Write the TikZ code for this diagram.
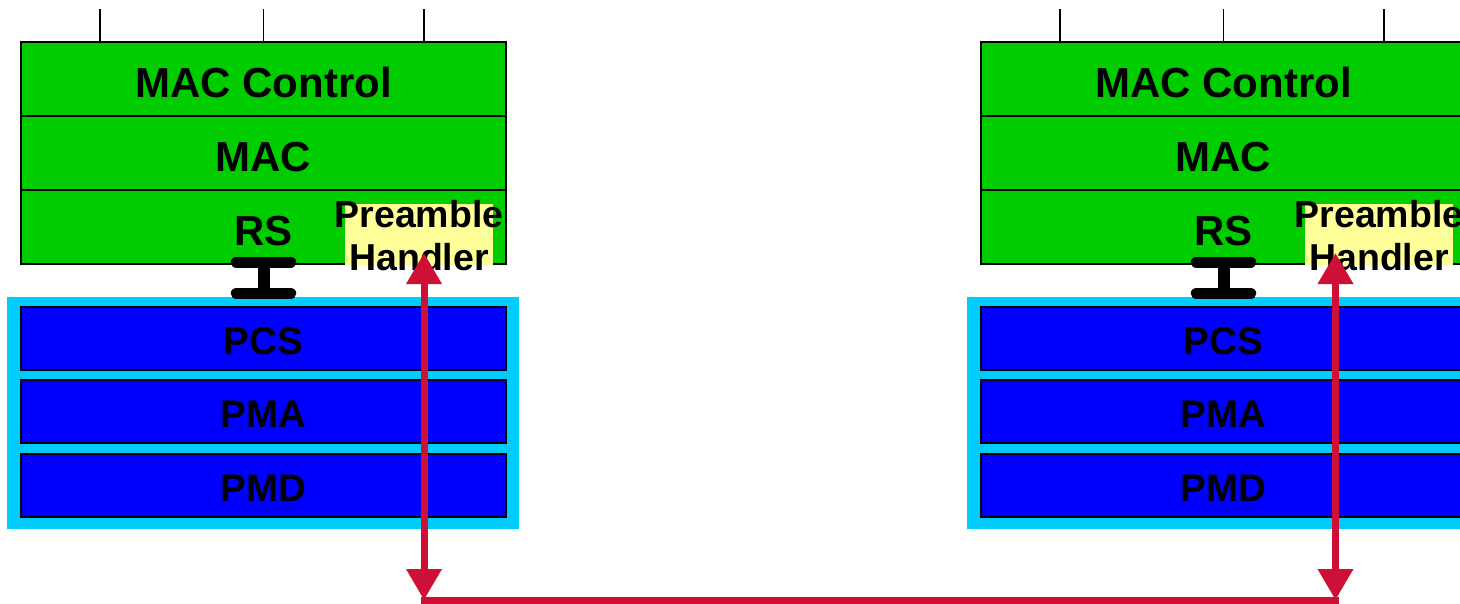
\documentclass[tikz,border=0pt]{standalone}
\usepackage{fontspec}
\setmainfont{Liberation Sans}
\usetikzlibrary{arrows.meta}
\definecolor{macgreen}{HTML}{00CC00}
\definecolor{phycyan}{HTML}{00CCFF}
\definecolor{phyblue}{HTML}{0000FF}
\definecolor{phyellow}{HTML}{FFFF99}
\definecolor{linkred}{HTML}{CF1036}
\begin{document}
\begin{tikzpicture}[x=1pt,y=-1pt,
  maclayer/.style={draw=black,line width=1.6pt,fill=macgreen,minimum width=485pt,
    minimum height=74pt,inner sep=0pt,
    font=\bfseries\fontsize{42}{42}\selectfont,text height=36pt,text depth=0pt},
  phylayer/.style={draw=black,line width=1.6pt,fill=phyblue,minimum width=485pt,
    minimum height=63pt,inner sep=0pt,
    font=\bfseries\fontsize{38.5}{38.5}\selectfont,text height=32pt,text depth=0pt},
  phybox/.style={fill=phycyan,minimum width=512pt,minimum height=231.5pt,inner sep=0pt},
  phbox/.style={fill=phyellow,minimum width=148pt,minimum height=61pt,inner sep=0pt},
  phtext/.style={font=\bfseries\fontsize{37.5}{37.5}\selectfont,inner sep=0pt,anchor=base},
  tick/.style={draw=black,line width=1.5pt},
  ibar/.style={draw=black,line width=11.5pt,line cap=round},
  istem/.style={draw=black,line width=12pt},
  redlink/.style={draw=linkred,line width=7pt},
  redtip/.style={Triangle[width=34pt,length=31pt]}
]
\useasboundingbox (0,0) rectangle (1460,603);
\foreach \dx/\s in {0/L,960/R}{
  \node[phybox] (phy\s) at (263+\dx,412.75) {};
  \node[phylayer] (pcs\s) at (263.5+\dx,338.2) {PCS};
  \node[phylayer] (pma\s) at (263.5+\dx,411.4) {PMA};
  \node[phylayer] (pmd\s) at (263.5+\dx,485.4) {PMD};
  \node[maclayer] (mc\s) at (263.5+\dx,79) {MAC Control};
  \node[maclayer] (mac\s) at (263.5+\dx,153) {MAC};
  \node[maclayer] (rs\s) at (263.5+\dx,227) {RS};
  \node[phbox] (phb\s) at (419+\dx,234.5) {};
  \node[phtext] (pre\s) at (419+\dx,227) {Preamble};
  \node[phtext] (han\s) at (419+\dx,270) {Handler};
  \draw[tick] ([xshift=80pt]mc\s.north west) -- ++(0,-32);
  \draw[tick] (mc\s.north) -- ++(0,-32);
  \draw[tick] ([xshift=404pt]mc\s.north west) -- ++(0,-32);
  \draw[istem] ([yshift=2.5pt]rs\s.south) -- ([yshift=12.5pt]pcs\s.north);
  \draw[ibar] ([xshift=-27pt,yshift=2.5pt]rs\s.south) -- ([xshift=27pt,yshift=2.5pt]rs\s.south);
  \draw[ibar] ([xshift=-27pt,yshift=12.5pt]pcs\s.north) -- ([xshift=27pt,yshift=12.5pt]pcs\s.north);
}
\coordinate (tipL) at (424,253);
\coordinate (botL) at (424,600);
\coordinate (tipR) at (1335.5,253);
\coordinate (botR) at (1335.5,600);
\draw[redlink] ([xshift=-3.5pt]botL) -- ([xshift=3.5pt]botR);
\draw[redlink,{Triangle[width=34pt,length=31pt]}-{Triangle[width=34pt,length=31pt]}] (tipL) -- (botL);
\draw[redlink,{Triangle[width=34pt,length=31pt]}-{Triangle[width=34pt,length=31pt]}] (tipR) -- (botR);
\end{tikzpicture}
\end{document}
